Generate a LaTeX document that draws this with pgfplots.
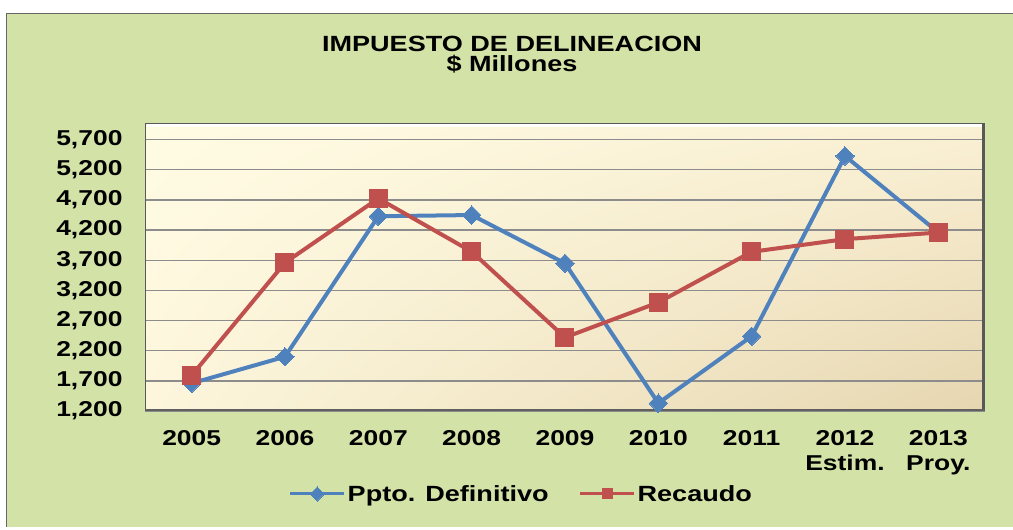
\documentclass[border=0pt]{standalone}
\usepackage{fontspec}
\setmainfont{Liberation Sans}[FakeStretch=1.23]
\usepackage{pgfplots}
\pgfplotsset{compat=1.18}
\usetikzlibrary{shadings}
\definecolor{bggreen}{RGB}{211,226,167}
\definecolor{pblue}{RGB}{79,129,189}
\definecolor{pred}{RGB}{192,80,77}
\definecolor{gridgray}{RGB}{140,140,140}
\definecolor{cUL}{RGB}{255,252,228}
\definecolor{cUR}{RGB}{250,240,212}
\definecolor{cLL}{RGB}{253,246,220}
\definecolor{cLR}{RGB}{230,214,176}
\begin{document}
\begin{tikzpicture}[x=1pt,y=1pt]
\fill[white] (0,0) rectangle (1013,530);
\fill[bggreen] (6,3) rectangle (1013,517);
\draw[gray!80!black, line width=1.2pt] (6.5,3) -- (6.5,516.5) -- (1013,516.5);
\node[font=\bfseries\fontsize{22}{20.5}\selectfont, align=center] at (512,475.5) {IMPUESTO DE DELINEACION\\\$ Millones};
\begin{axis}[
  at={(145pt,119pt)}, anchor=south west,
  width=840pt, height=287pt, scale only axis,
  xmin=-0.5, xmax=8.5, ymin=1200, ymax=5960,
  xtick={0,...,8},
  xticklabels={2005,2006,2007,2008,2009,2010,2011,{2012\\Estim.},{2013\\Proy.}},
  ytick={1200,1700,...,5700},
  yticklabels={{1,200},{1,700},{2,200},{2,700},{3,200},{3,700},{4,200},{4,700},{5,200},{5,700}},
  major tick length=0pt,
  ymajorgrids, grid style={gridgray, line width=1.3pt},
  axis line style={draw=gray!70!black, line width=1pt},
  axis background/.style={shade, upper left=cUL, upper right=cUR, lower left=cLL, lower right=cLR},
  tick label style={font=\bfseries\fontsize{21.5}{25}\selectfont},
  xticklabel style={align=center, yshift=-16pt},
  yticklabel style={xshift=-19pt},
  legend columns=2,
  legend style={at={(0.448,-0.289)}, anchor=center, draw=none, fill=none,
    font=\bfseries\fontsize{22}{24}\selectfont,
    /tikz/every even column/.append style={column sep=28pt},
    nodes={inner sep=2pt}},
  legend image code/.code={\draw[#1, line width=3pt, mark size=5pt, mark repeat=2, mark phase=2] plot coordinates {(0pt,0pt) (27pt,0pt) (54pt,0pt)};},
]
\addplot[pblue, line width=4pt, mark=square*, mark size=6.5pt, mark options={rotate=45, solid, fill=pblue, line width=0pt}]
  coordinates {(0,1660) (1,2100) (2,4430) (3,4450) (4,3650) (5,1330) (6,2440) (7,5430) (8,4160)};
\addlegendentry{Ppto. Definitivo}
\addplot[pred, line width=4pt, mark=square*, mark size=9pt, mark options={solid, fill=pred, line width=0pt}]
  coordinates {(0,1790) (1,3660) (2,4725) (3,3843) (4,2420) (5,3000) (6,3840) (7,4050) (8,4160)};
\addlegendentry{Recaudo}
\draw[white, line width=3pt] ([xshift=1.5pt,yshift=-2pt]rel axis cs:0,1) -- ([xshift=-3pt,yshift=-2pt]rel axis cs:1,1);
\draw[black!65, line width=3pt] ([xshift=-1.5pt]rel axis cs:1,0) -- ([xshift=-1.5pt]rel axis cs:1,1);
\draw[gray!75!black, line width=2pt] ([yshift=1pt]rel axis cs:0,0) -- ([yshift=1pt]rel axis cs:1,0);
\end{axis}
\pgfresetboundingbox
\useasboundingbox (0,0) rectangle (1013,530);
\end{tikzpicture}
\end{document}
